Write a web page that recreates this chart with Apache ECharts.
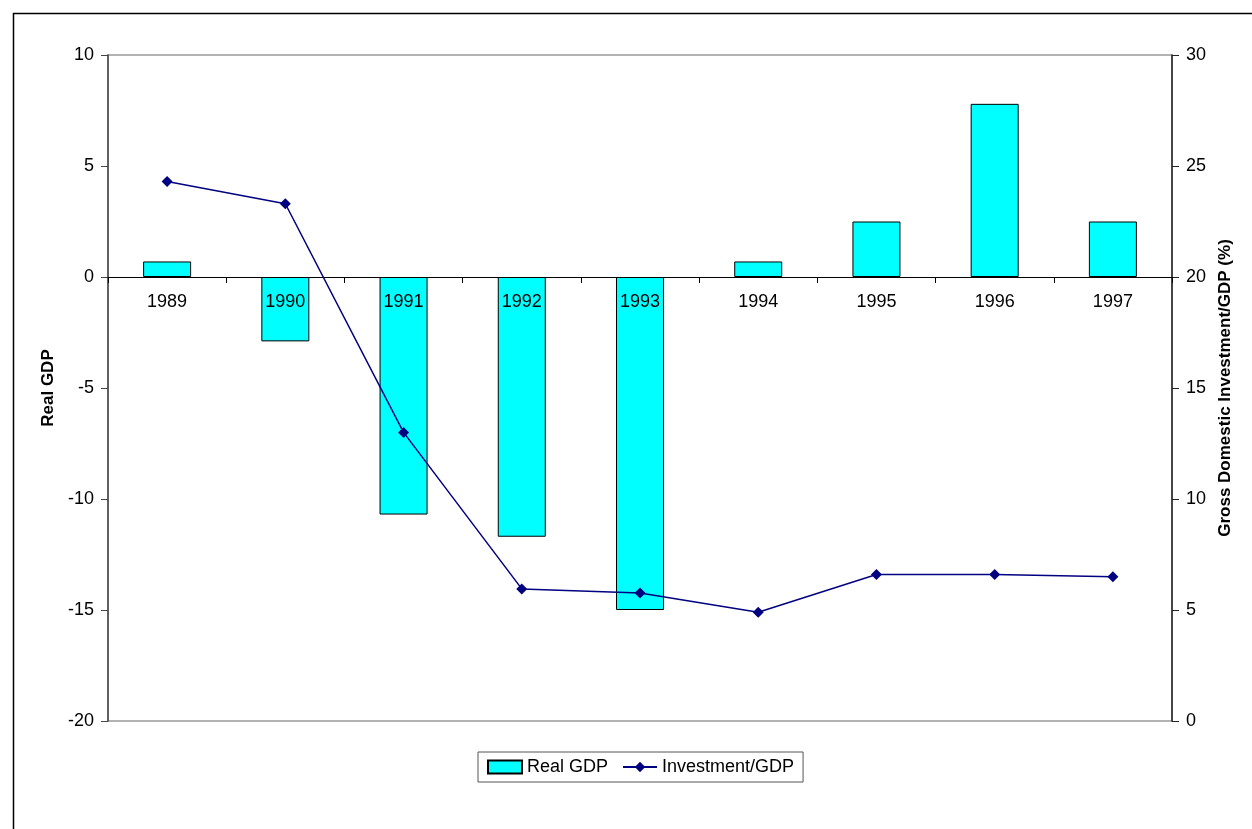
<!DOCTYPE html>
<html>
<head>
<meta charset="utf-8">
<script src="https://cdn.jsdelivr.net/npm/echarts@6/dist/echarts.min.js"></script>
<style>
html,body{margin:0;padding:0;background:#fff;}
#chart{width:1252px;height:829px;}
</style>
</head>
<body>
<div id="chart"></div>
<script>
const years = ['1989','1990','1991','1992','1993','1994','1995','1996','1997'];
const realGDP = [0.7, -2.9, -10.7, -11.7, -15.0, 0.7, 2.5, 7.8, 2.5];
const investmentGDP = [24.3, 23.3, 13.0, 5.95, 5.77, 4.9, 6.6, 6.6, 6.5];
const leftTicks = {min: -20, max: 10, interval: 5};
const rightTicks = {min: 0, max: 30, interval: 5};

const FONT = 'Liberation Sans, Arial, sans-serif';
const GRID = {left: 108, right: 80, top: 55, bottom: 108};
const plotH = 829 - GRID.top - GRID.bottom;
// distance of the zero line above the bottom of the plot, from the left axis scale
const zeroOffset = -plotH * (0 - leftTicks.min) / (leftTicks.max - leftTicks.min);

const chart = echarts.init(document.getElementById('chart'));
chart.setOption({
  animation: false,
  backgroundColor: '#fff',
  textStyle: {fontFamily: FONT},
  graphic: [{
    type: 'rect', left: 11, top: 11, silent: true,
    shape: {x: 0, y: 0, width: 1300, height: 900},
    style: {fill: 'none', stroke: '#000', lineWidth: 1.5}
  }],
  grid: Object.assign({show: true, borderColor: '#999', borderWidth: 1.5, backgroundColor: 'transparent'}, GRID),
  legend: {
    left: 478, top: 752,
    padding: [6, 9, 6, 9],
    borderColor: '#555', borderWidth: 1,
    itemWidth: 34, itemHeight: 13, itemGap: 14,
    textStyle: {fontFamily: FONT, fontSize: 18, color: '#000'},
    data: [
      {name: 'Real GDP', icon: 'rect'},
      {name: 'Investment/GDP'}
    ]
  },
  xAxis: {
    type: 'category', data: years, z: 5,
    position: 'bottom', offset: zeroOffset,
    axisLine: {onZero: false, lineStyle: {color: '#000', width: 1.2}},
    axisTick: {show: true, length: 6, lineStyle: {color: '#000'}},
    axisLabel: {color: '#000', fontSize: 18, fontFamily: FONT, margin: 16},
    splitLine: {show: false}
  },
  yAxis: [{
    type: 'value', min: leftTicks.min, max: leftTicks.max, interval: leftTicks.interval,
    name: 'Real GDP', nameLocation: 'middle', nameRotate: 90, nameGap: 51,
    nameTextStyle: {fontSize: 17, fontWeight: 'bold', color: '#000', fontFamily: FONT},
    axisLine: {show: true, onZero: false, lineStyle: {color: '#444', width: 1.5}},
    axisTick: {show: true, length: 7, lineStyle: {color: '#444'}},
    axisLabel: {color: '#000', fontSize: 18, fontFamily: FONT, margin: 14},
    splitLine: {show: false}
  }, {
    type: 'value', min: rightTicks.min, max: rightTicks.max, interval: rightTicks.interval,
    position: 'right',
    name: 'Gross Domestic Investment/GDP (%)', nameLocation: 'middle', nameRotate: 90, nameGap: 43,
    nameTextStyle: {fontSize: 17, fontWeight: 'bold', color: '#000', fontFamily: FONT},
    axisLine: {show: true, onZero: false, lineStyle: {color: '#222', width: 1.5}},
    axisTick: {show: true, length: 7, lineStyle: {color: '#222'}},
    axisLabel: {color: '#000', fontSize: 18, fontFamily: FONT, margin: 14},
    splitLine: {show: false}
  }],
  series: [{
    name: 'Real GDP', type: 'bar', data: realGDP, yAxisIndex: 0,
    barWidth: 48,
    itemStyle: {color: '#00FFFF', borderColor: '#000', borderWidth: 1}
  }, {
    name: 'Investment/GDP', type: 'line', data: investmentGDP, yAxisIndex: 1,
    symbol: 'diamond', symbolSize: 11,
    lineStyle: {color: '#000080', width: 1.5},
    itemStyle: {color: '#000080'},
    z: 6
  }]
});
</script>
</body>
</html>
